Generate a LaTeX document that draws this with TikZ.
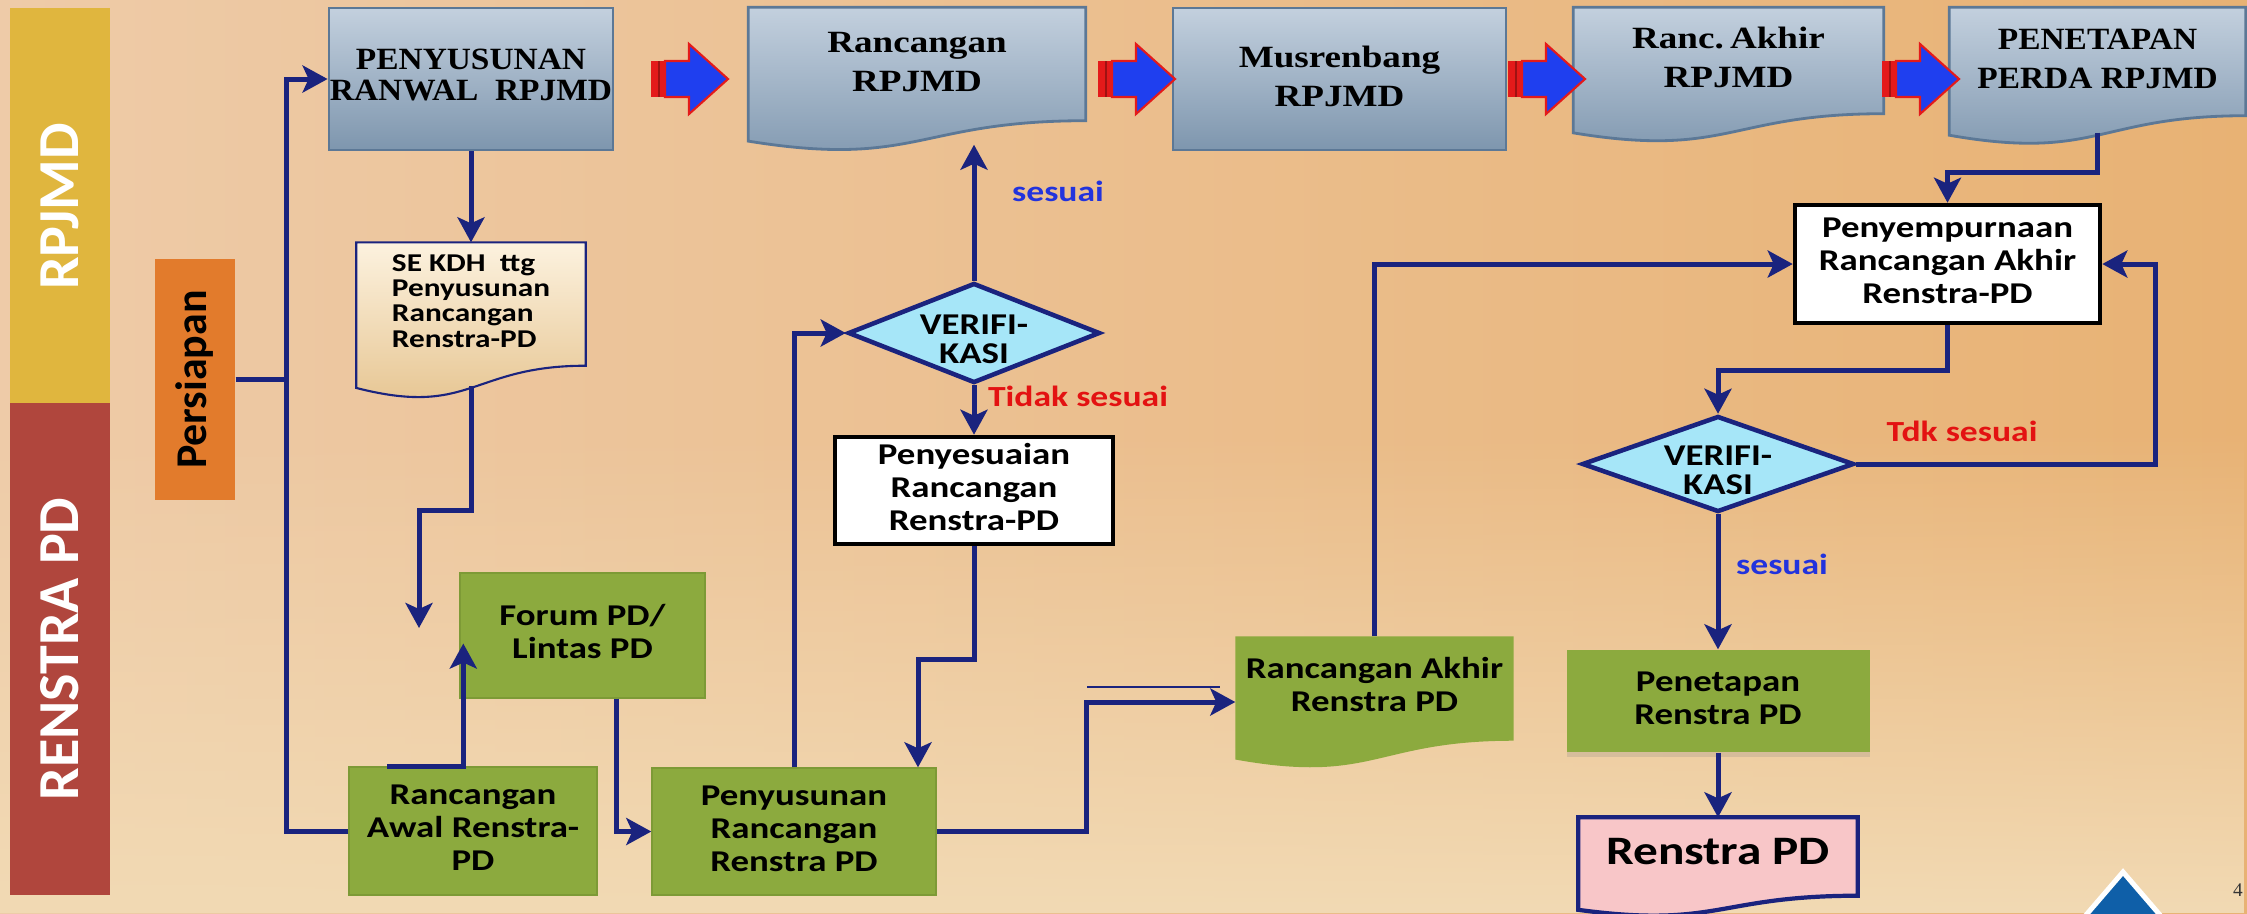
\documentclass[tikz,border=0pt]{standalone}
\usepackage{fontspec}
\usepackage{graphicx}
\setmainfont{Carlito}
\newfontfamily\capserif{Liberation Serif}
\usetikzlibrary{arrows.meta,positioning,calc,shapes.geometric,backgrounds,shadows,fadings}
\definecolor{navyline}{HTML}{1A237E}
\definecolor{bgleft}{HTML}{EECBA8}
\definecolor{bgright}{HTML}{E8B274}
\definecolor{bglight}{HTML}{F2DAB4}
\definecolor{bandyel}{HTML}{E0B63E}
\definecolor{bandred}{HTML}{B0463D}
\definecolor{prepor}{HTML}{E27B2C}
\definecolor{slateA}{HTML}{C3D0DE}
\definecolor{slateB}{HTML}{7E96AE}
\definecolor{slateE}{HTML}{5C7896}
\definecolor{olivebox}{HTML}{8CAA3E}
\definecolor{oliveedge}{HTML}{7D9A36}
\definecolor{verifcyan}{HTML}{A6E6F8}
\definecolor{pinkdoc}{HTML}{F8C6C8}
\definecolor{creamA}{HTML}{FCF2DF}
\definecolor{creamB}{HTML}{E5C28C}
\definecolor{okblue}{HTML}{2233DD}
\definecolor{nored}{HTML}{E31212}
\definecolor{blockblue}{HTML}{1F3FEF}
\definecolor{blockred}{HTML}{E41A1A}
\definecolor{cornerblue}{HTML}{0F5FA8}
\newcommand\topfont{\capserif\bfseries\fontsize{8.8}{11}\selectfont}
\newcommand\boxfont{\bfseries\fontsize{8.6}{9.4}\selectfont}
\newcommand\verifont{\bfseries\fontsize{8.6}{8.3}\selectfont}
\newcommand\sekdhfont{\bfseries\fontsize{7.3}{7.2}\selectfont}
\newcommand\bandfont{\bfseries\fontsize{16.5}{18}\selectfont}
\newcommand\prepfont{\bfseries\fontsize{12.5}{14}\selectfont}
\newcommand\notefont{\bfseries\fontsize{8.3}{9}\selectfont}
% stretched multi-line text
\newcommand\sx[2][1.22]{\scalebox{#1}[1]{\begin{tabular}{@{}c@{}}#2\end{tabular}}}
\newcommand\sxl[2][1.22]{\scalebox{#1}[1]{\begin{tabular}{@{}l@{}}#2\end{tabular}}}
% text that does not size the diamond
\newcommand\nosize[1]{\smash{\makebox[0pt]{\raisebox{-5.2pt}{#1}}}}
% document shape with wavy bottom, drawn round a named node
\newcommand\docwave[2]{%
  \path[#2] let \p1=(#1.north west), \p2=(#1.south east) in
    (\p1) -- (\x2,\y1) -- (\p2)
    .. controls ({0.5*\x1+0.5*\x2},\y2) and ({0.5*\x1+0.5*\x2},{\y2-0.42*(\y1-\y2)}) ..
    (\x1,{\y2-0.18*(\y1-\y2)}) -- cycle;}
\tikzset{
  topbox/.style={rectangle, draw=slateE, line width=0.8pt, top color=slateA, bottom color=slateB,
                 inner sep=0pt, font=\topfont},
  docnode/.style={rectangle, inner sep=0pt},
  slatefill/.style={draw=slateE, line width=0.8pt, top color=slateA, bottom color=slateB},
  creamfill/.style={draw=navyline, line width=0.6pt, top color=creamA, bottom color=creamB},
  greenfill/.style={fill=olivebox},
  pinkfill/.style={fill=pinkdoc, draw=navyline, line width=1.2pt},
  greenbox/.style={rectangle, fill=olivebox, draw=oliveedge, line width=0.4pt, inner sep=0pt, font=\boxfont},
  whitebox/.style={rectangle, fill=white, draw=black, line width=1.3pt, inner sep=0pt, font=\boxfont},
  verif/.style={diamond, fill=verifcyan, draw=navyline, line width=1.3pt, inner sep=0pt, font=\verifont},
  band/.style={rectangle, fill=#1, inner sep=0pt, rotate=90, font=\bandfont, text=white},
  flow/.style={draw=navyline, line width=0.5mm, -{Stealth[length=2.5mm,width=2.7mm,inset=0.6mm]}},
  wire/.style={draw=navyline, line width=0.5mm},
  thinwire/.style={draw=navyline, line width=0.25mm},
  yesnote/.style={font=\notefont, text=okblue, inner sep=0pt},
  nonote/.style={font=\notefont, text=nored, inner sep=0pt},
  bigarrow/.pic={
    \fill[blockred] (0,-18) rectangle (14,18);
    \fill[blockred!70!black] (7,-18) rectangle (9,18);
    \filldraw[fill=blockblue, draw=blockred, line width=0.6pt]
      (14,-18) -- (38,-18) -- (38,-35) -- (77,0) -- (38,35) -- (38,18) -- (14,18) -- cycle;
  },
}
\begin{document}
\begin{tikzpicture}[x=0.1mm, y=-0.1mm]
  \useasboundingbox (0,0) rectangle (2247,913);
  % side bands
  \node[band=bandyel, minimum width=39.7mm, minimum height=10mm] (rpjmd) at (60,206.5) {RPJMD};
  \node[band=bandred, minimum width=49.2mm, minimum height=10mm] (renstra) at (60,649) {RENSTRA PD};
  \node[band=prepor, text=black, font=\prepfont, minimum width=24.1mm, minimum height=8mm] (persiapan) at (195,379.5) {Persiapan};
  % top row
  \node[topbox, minimum width=28.4mm, minimum height=14.2mm, font=\capserif\bfseries\fontsize{8.8}{8.6}\selectfont]
    (ranwal) at (471,79) {\sx[1.08]{PENYUSUNAN\\RANWAL\ \ RPJMD}};
  \node[docnode, font=\topfont, minimum width=33.6mm, minimum height=11.2mm] (rancRPJMD) at (917,64) {\sx[1.2]{Rancangan\\RPJMD}};
  \node[topbox, minimum width=33.3mm, minimum height=14.2mm] (musren) at (1339.5,79) {\sx[1.2]{Musrenbang\\RPJMD}};
  \node[docnode, font=\topfont, minimum width=30.9mm, minimum height=10.5mm] (akhirRPJMD) at (1728.5,60.5) {\sx[1.2]{Ranc.\,Akhir\\RPJMD}};
  \node[docnode, font=\topfont, minimum width=29.5mm, minimum height=10.7mm] (perdaRPJMD) at (2097.5,61.5) {\sx[1.08]{PENETAPAN\\PERDA RPJMD}};
  % renstra flow
  \node[docnode, font=\sekdhfont, minimum width=22.8mm, minimum height=12.2mm] (sekdh) at (471,304) {\sxl{SE KDH\ \ ttg\\Penyusunan\\Rancangan\\Renstra-PD}};
  \node[greenbox, minimum width=24.5mm, minimum height=12.5mm] (forum) at (582.5,635.5) {\sx{Forum PD/\\Lintas PD}};
  \node[greenbox, minimum width=24.8mm, minimum height=12.8mm] (awal) at (473,831) {\sx{Rancangan\\Awal Renstra-\\PD}};
  \node[greenbox, minimum width=28.4mm, minimum height=12.7mm] (penyRenstra) at (794,831.5) {\sx{Penyusunan\\Rancangan\\Renstra PD}};
  \node[verif, minimum width=25.2mm, minimum height=10mm] (verif1) at (974,333) {\nosize{\sx{VERIFI-\\KASI}}};
  \node[whitebox, minimum width=27.8mm, minimum height=10.7mm] (penyesuaian) at (974,490.5) {\sx{Penyesuaian\\Rancangan\\Renstra-PD}};
  \node[docnode, font=\boxfont, minimum width=27.7mm, minimum height=10.3mm] (akhirRenstra) at (1374.5,688.5) {\sx{Rancangan Akhir\\Renstra PD}};
  \node[whitebox, minimum width=30.5mm, minimum height=11.8mm] (penyempurnaan) at (1947.5,264) {\sx{Penyempurnaan\\Rancangan Akhir\\Renstra-PD}};
  \node[verif, minimum width=27.2mm, minimum height=9.6mm] (verif2) at (1718,464) {\nosize{\sx{VERIFI-\\KASI}}};
  \node[greenbox, draw=none, minimum width=30.3mm, minimum height=10.2mm,
        drop shadow={opacity=0.22, shadow xshift=0mm, shadow yshift=-0.5mm}] (penetapan) at (1718,701) {\sx{Penetapan\\Renstra PD}};
  \node[docnode, font=\bfseries\fontsize{11.5}{12}\selectfont, minimum width=27.8mm, minimum height=7.7mm] (renstraPD) at (1718,856.5) {\sx{Renstra PD}};
  % labels
  \node[yesnote] (ok1) at (1058,195) {\sx{sesuai}};
  \node[nonote] (no1) at (1078,400) {\sx{Tidak sesuai}};
  \node[nonote] (no2) at (1962,435) {\sx{Tdk sesuai}};
  \node[yesnote] (ok2) at (1782,568) {\sx{sesuai}};
  \node[font=\capserif\fontsize{5.5}{6}\selectfont, text=black!80] (pageno) at (2238,890) {4};
  % background and document shapes
  \begin{scope}[on background layer]
    \shade[left color=bgleft, right color=bgright] (0,0) rectangle (2247,913);
    \fill[bglight, path fading=north] (0,430) rectangle (2247,913);
    \docwave{rancRPJMD}{slatefill}
    \docwave{akhirRPJMD}{slatefill}
    \docwave{perdaRPJMD}{slatefill}
    \docwave{sekdh}{creamfill}
    \docwave{akhirRenstra}{greenfill}
    \docwave{renstraPD}{pinkfill}
  \end{scope}
  % block arrows of the RPJMD row
  \pic at (651,79) {bigarrow};
  \pic at (1098,79) {bigarrow};
  \pic at (1508,79) {bigarrow};
  \pic at (1882,79) {bigarrow};
  % connectors
  \coordinate (spine) at (286,450);
  \draw[flow] (awal.west) -| (spine) |- (ranwal.west);
  \draw[wire] (persiapan.south) -- (persiapan.south -| spine);
  \draw[flow] (ranwal) -- (sekdh);
  \coordinate (dropend) at (419,628);
  \draw[flow] ([yshift=-2mm]sekdh.south) -- ++(0,125) -| (dropend);
  \coordinate (forumin) at ([xshift=0.4mm,yshift=-0.8mm]forum.west);
  \draw[flow] ([xshift=-8.6mm]awal.north) -| (forumin);
  \draw[flow] ([xshift=3.35mm]forum.south) |- (penyRenstra.west);
  \draw[flow] (penyRenstra.north) |- (verif1.west);
  \coordinate (wavehit) at ([yshift=-2.4mm]rancRPJMD.south);
  \draw[flow] (verif1.north) -- (verif1.north |- wavehit);
  \draw[flow] (verif1.south) -- (penyesuaian.north);
  \draw[flow] (penyesuaian.south) -- ++(0,113) -| ([xshift=12.4mm]penyRenstra.north);
  \draw[flow] (penyRenstra.east) -- ++(150,0) |- ([yshift=-1.35mm]akhirRenstra.west);
  \draw[thinwire] (1087,687) -- (1220,687);
  \draw[flow] (akhirRenstra.north) |- (penyempurnaan.west);
  \draw[flow] ([yshift=-1.7mm]perdaRPJMD.south) -- ++(0,40) -| (penyempurnaan.north);
  \draw[flow] (penyempurnaan.south) -- ++(0,45) -| (verif2.north);
  \draw[flow] (verif2.east) -- ++(299,0) |- (penyempurnaan.east);
  \draw[flow] (verif2.south) -- (penetapan.north);
  \draw[flow] (penetapan.south) -- (renstraPD.north);
  % corner mark
  \filldraw[fill=cornerblue, draw=white, line width=0.5mm] (2080,922) -- (2123,872) -- (2166,922);
\end{tikzpicture}
\end{document}
